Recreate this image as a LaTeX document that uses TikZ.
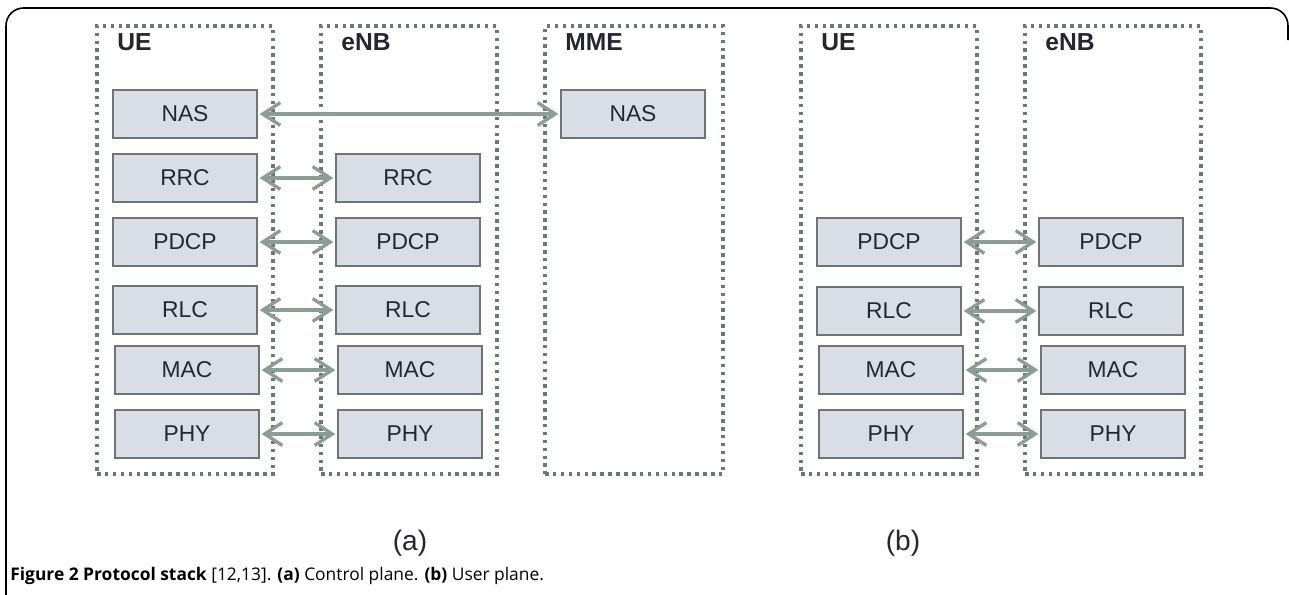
\documentclass[tikz,border=0pt]{standalone}
\usepackage{fontspec}
\setmainfont{Liberation Sans}
\newfontfamily\capfont{Open Sans}
\usetikzlibrary{arrows, arrows.meta}

\definecolor{boxfill}{HTML}{D9DDE6}
\definecolor{boxline}{HTML}{6D776F}
\definecolor{linkcol}{HTML}{8C9E94}
\definecolor{dotcol}{HTML}{6E7772}
\definecolor{inkcol}{HTML}{262633}

\begin{document}
\begin{tikzpicture}[x=0.02cm, y=-0.02cm, >={Straight Barb[length=10pt, width=13pt, line width=1.9pt]},
    layer/.style={draw=boxline, fill=boxfill, line width=1.1pt, minimum width=2.88cm, minimum height=0.96cm, inner sep=0pt, font=\fontsize{13}{15}\selectfont, text=inkcol},
    entity/.style={draw=dotcol, line width=2pt, dash pattern=on 2pt off 2.5pt, minimum width=3.52cm, minimum height=8.96cm, inner sep=0pt},
    title/.style={anchor=north west, inner sep=0pt, font=\fontsize{14}{16}\selectfont\bfseries, text=inkcol},
    link/.style={<->, draw=linkcol, line width=1.9pt, shorten <=1pt, shorten >=1pt}]
    \useasboundingbox (0,0) rectangle (1289,595);
    \draw[line width=0.9pt, rounded corners=10pt] (6,600) -- (6,8) -- (1288,8) -- (1288,40);

    % control plane
    \node[entity] (ueA) at (185,250) {};
    \node[entity] (enbA) at (409,250) {};
    \node[entity, minimum width=3.56cm] (mme) at (634,250) {};
    \node[title] (ueAt) at (117,33) {UE};
    \node[title] (enbAt) at (341,33) {eNB};
    \node[title] (mmet) at (565,33) {MME};

    \node[layer] (nasU) at (185,114) {NAS};
    \node[layer] (rrcU) at (185,178) {RRC};
    \node[layer] (pdcpU) at (185,242) {PDCP};
    \node[layer] (rlcU) at (185,310) {RLC};
    \node[layer] (macU) at (187,370) {MAC};
    \node[layer] (phyU) at (187,434) {PHY};

    \node[layer] (rrcE) at (408,178) {RRC};
    \node[layer] (pdcpE) at (408,242) {PDCP};
    \node[layer] (rlcE) at (408,310) {RLC};
    \node[layer] (macE) at (410,370) {MAC};
    \node[layer] (phyE) at (410,434) {PHY};

    \node[layer] (nasM) at (633,114) {NAS};

    \draw[link] (nasU) -- (nasM);
    \draw[link] (rrcU) -- (rrcE);
    \draw[link] (pdcpU) -- (pdcpE);
    \draw[link] (rlcU) -- (rlcE);
    \draw[link] (macU) -- (macE);
    \draw[link] (phyU) -- (phyE);

    % user plane
    \node[entity] (ueB) at (889,250) {};
    \node[entity] (enbB) at (1113,250) {};
    \node[title] (ueBt) at (821,33) {UE};
    \node[title] (enbBt) at (1045,33) {eNB};

    \node[layer] (pdcpUb) at (889,242) {PDCP};
    \node[layer] (rlcUb) at (889,311) {RLC};
    \node[layer] (macUb) at (891,370) {MAC};
    \node[layer] (phyUb) at (891,434) {PHY};

    \node[layer] (pdcpEb) at (1111,242) {PDCP};
    \node[layer] (rlcEb) at (1111,311) {RLC};
    \node[layer] (macEb) at (1113,370) {MAC};
    \node[layer] (phyEb) at (1113,434) {PHY};

    \draw[link] (pdcpUb) -- (pdcpEb);
    \draw[link] (rlcUb) -- (rlcEb);
    \draw[link] (macUb) -- (macEb);
    \draw[link] (phyUb) -- (phyEb);

    \node[font=\fontsize{16}{18}\selectfont, text=inkcol] (capA) at (410,543) {(a)};
    \node[font=\fontsize{16}{18}\selectfont, text=inkcol] (capB) at (903,543) {(b)};
    \node[anchor=base west, inner sep=0pt, font=\capfont\fontsize{9.9}{11}\selectfont] (fig) at (10,580)
        {\textbf{Figure 2 Protocol stack} [12,13]. \textbf{(a)} Control plane. \textbf{(b)} User plane.};
\end{tikzpicture}
\end{document}
